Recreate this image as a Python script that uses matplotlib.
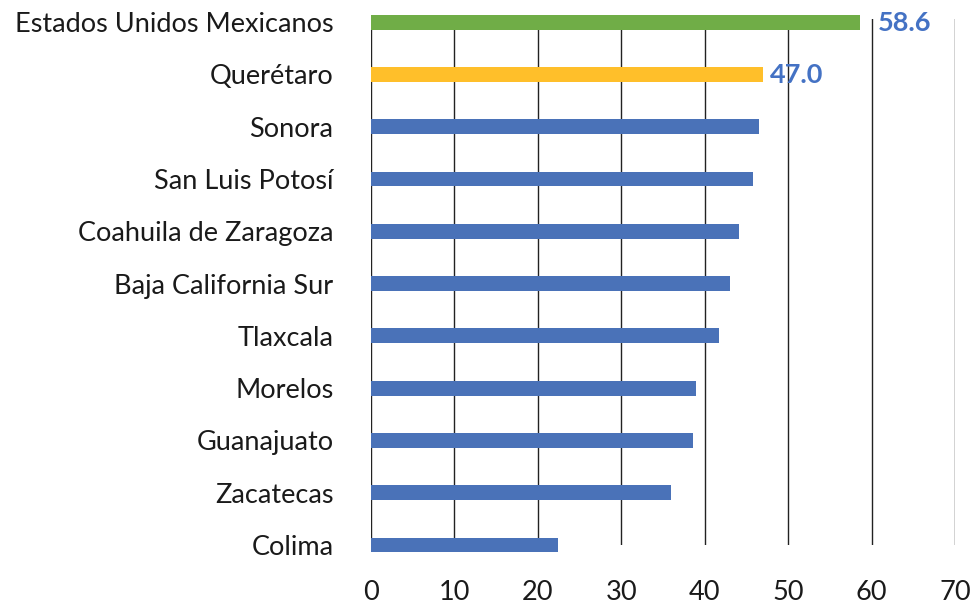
import numpy as np
import matplotlib.pyplot as plt

# data (top to bottom as in the chart)
estados = ["Estados Unidos Mexicanos", "Querétaro", "Sonora", "San Luis Potosí",
           "Coahuila de Zaragoza", "Baja California Sur", "Tlaxcala", "Morelos",
           "Guanajuato", "Zacatecas", "Colima"]
valores = [58.6, 47.0, 46.5, 45.8, 44.1, 43.0, 41.7, 38.9, 38.6, 36.0, 22.4]
colores = ["#70AD47", "#FFBF2A"] + ["#4A72B8"] * 9
etiquetas = {0: "58.6", 1: "47.0"}
xticks = [0, 10, 20, 30, 40, 50, 60, 70]

plt.rcParams['font.family'] = ['Lato', 'DejaVu Sans']

fig = plt.figure(figsize=(9.73, 6.06), dpi=100)
ax = fig.add_axes([0.3813, 0.1007, 0.6002, 0.868])

n = len(estados)
pos = np.arange(n)[::-1]  # first item on top

ax.barh(pos, valores, height=0.285, color=colores, clip_on=False, zorder=3)

desp = {0: 2.1, 1: 0.8}  # label offsets
for i, txt in etiquetas.items():
    ax.text(valores[i] + desp[i], pos[i] - 0.02, txt, color="#4472C4",
            fontsize=19.5, fontweight="bold", va="center", ha="left", zorder=4)

ax.set_xlim(0, 70)
ax.set_ylim(0.15, 10.06)
ax.set_xticks(xticks)
ax.set_yticks(pos)
ax.set_yticklabels(estados)

ax.grid(True, axis="x", color="#222222", linewidth=1.0, zorder=0)
for s in ax.spines.values():
    s.set_visible(False)
ax.tick_params(axis="both", length=0, labelsize=19.5, colors="#1a1a1a")
ax.tick_params(axis="y", pad=27)
ax.tick_params(axis="x", pad=25)

plt.savefig("out.png", dpi=100)
